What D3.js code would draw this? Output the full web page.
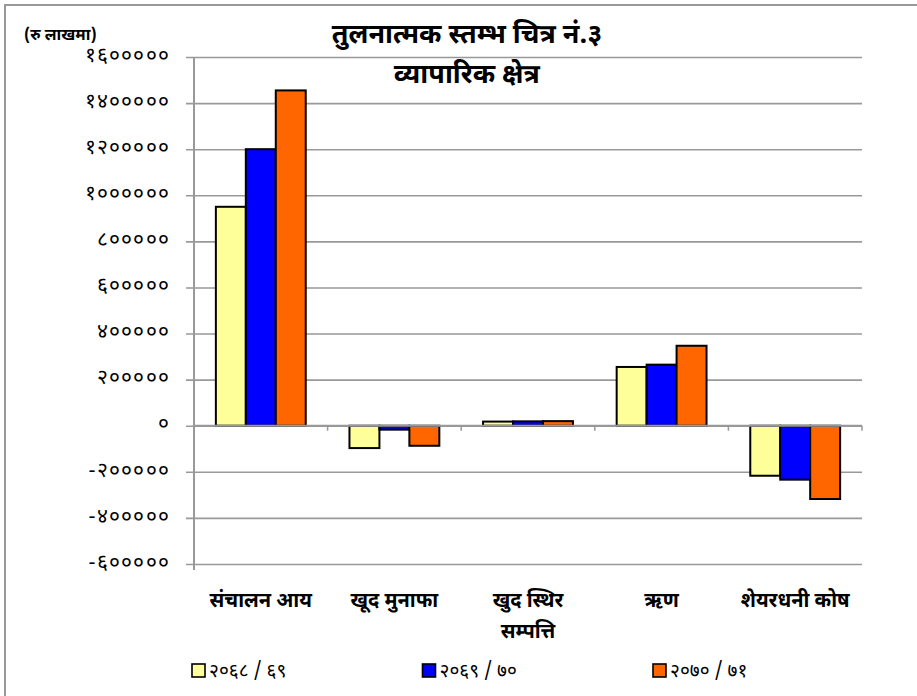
<!DOCTYPE html>
<html>
<head>
<meta charset="utf-8">
<script src="https://cdn.jsdelivr.net/npm/d3@7"></script>
<style>
  body { margin: 0; background: #fff; }
  svg { display: block; font-family: "Noto Sans Devanagari", "Noto Sans", "DejaVu Sans", sans-serif; }
</style>
</head>
<body>
<svg width="917" height="696"></svg>
<script>
// chart values (रु लाखमा)
const categories = ["संचालन आय", "खूद मुनाफा", "खुद स्थिर\nसम्पत्ति", "ऋण", "शेयरधनी कोष"];
const series = ["२०६८ / ६९", "२०६९ / ७०", "२०७० / ७१"];
const colors = ["#FFFF99", "#0000FF", "#FF6600"];
const v2068 = [950000, -97000, 18000, 255000, -217000];
const v2069 = [1200000, -17000, 19000, 265000, -234000];
const v2070 = [1455000, -87000, 20000, 347000, -318000];
const yTicks = [-600000, -400000, -200000, 0, 200000, 400000, 600000, 800000, 1000000, 1200000, 1400000, 1600000];

const seriesValues = [v2068, v2069, v2070];
const devDigits = "०१२३४५६७८९";
const toDev = (n) => String(n).replace(/[0-9]/g, (c) => devDigits[+c]);

let svg = d3.select("svg");

// frame
svg.append("rect")
    .attr("x", 5).attr("y", 5)
    .attr("width", 960).attr("height", 760)
    .attr("fill", "none")
    .attr("stroke", "#999").attr("stroke-width", 2);

const plot = {left: 194, right: 862, top: 57, bottom: 564};

const y = d3.scaleLinear()
    .domain([-600000, 1600000])
    .range([plot.bottom, plot.top]);

const x0 = d3.scaleBand()
    .domain(d3.range(categories.length))
    .range([plot.left, plot.right])
    .padding(0);

const x1 = d3.scaleBand()
    .domain(d3.range(series.length))
    .range([0, x0.bandwidth()])
    .paddingInner(0)
    .paddingOuter(0.73);

// gridlines + y ticks
const yAxis = d3.axisLeft(y)
    .tickValues(yTicks)
    .tickSize(-(plot.right - plot.left))
    .tickFormat((d) => toDev(d));

const gy = svg.append("g")
    .attr("transform", `translate(${plot.left},0)`)
    .call(yAxis);
gy.select(".domain").remove();
gy.selectAll(".tick line")
    .attr("x1", -8)
    .attr("stroke", "#999")
    .attr("stroke-width", 1.6);
gy.selectAll(".tick text")
    .attr("fill", "#000")
    .attr("font-size", 21)
    .attr("letter-spacing", 1.2)
    .attr("x", -24)
    .attr("dy", "0.2em");

// y axis line
svg.append("line")
    .attr("x1", plot.left).attr("x2", plot.left)
    .attr("y1", plot.top).attr("y2", plot.bottom + 6)
    .attr("stroke", "#999").attr("stroke-width", 2);

// bars
const groups = svg.append("g")
    .selectAll("g")
    .data(categories.map((c, i) => i))
    .enter()
    .append("g")
    .attr("transform", (i) => `translate(${x0(i)},0)`);

groups.selectAll("rect")
    .data((i) => seriesValues.map((vals, s) => ({s: s, v: vals[i]})))
    .enter()
    .append("rect")
    .attr("x", (d) => x1(d.s))
    .attr("width", x1.bandwidth())
    .attr("y", (d) => y(Math.max(0, d.v)))
    .attr("height", (d) => Math.abs(y(d.v) - y(0)))
    .attr("fill", (d) => colors[d.s])
    .attr("stroke", "#000")
    .attr("stroke-width", 2);

// zero line with category ticks
svg.append("line")
    .attr("x1", plot.left).attr("x2", plot.right)
    .attr("y1", y(0)).attr("y2", y(0))
    .attr("stroke", "#999").attr("stroke-width", 2);
svg.append("g")
    .selectAll("line")
    .data(d3.range(categories.length + 1))
    .enter()
    .append("line")
    .attr("x1", (i) => plot.left + i * x0.step())
    .attr("x2", (i) => plot.left + i * x0.step())
    .attr("y1", y(0)).attr("y2", y(0) + 5)
    .attr("stroke", "#999").attr("stroke-width", 1.5);

// category labels
const catLabels = svg.append("g")
    .selectAll("text")
    .data(categories)
    .enter()
    .append("text")
    .attr("x", (d, i) => x0(i) + x0.bandwidth() / 2)
    .attr("y", 607)
    .attr("text-anchor", "middle")
    .attr("font-size", 20)
    .attr("font-weight", "bold")
    .attr("fill", "#000");
catLabels.selectAll("tspan")
    .data((d) => d.split("\n"))
    .enter()
    .append("tspan")
    .attr("x", function () { return d3.select(this.parentNode).attr("x"); })
    .attr("dy", (d, i) => i === 0 ? 0 : 31)
    .text((d) => d);

// titles
svg.append("text")
    .attr("x", 467).attr("y", 43)
    .attr("text-anchor", "middle")
    .attr("font-size", 27)
    .attr("font-weight", "bold")
    .text("तुलनात्मक स्तम्भ चित्र नं.३");
svg.append("text")
    .attr("x", 467).attr("y", 83)
    .attr("text-anchor", "middle")
    .attr("font-size", 27)
    .attr("font-weight", "bold")
    .text("व्यापारिक क्षेत्र");
svg.append("text")
    .attr("x", 24).attr("y", 40)
    .attr("font-size", 16)
    .attr("font-weight", "bold")
    .text("(रु लाखमा)");

// legend
const legend = svg.append("g")
    .selectAll("g")
    .data(series)
    .enter()
    .append("g")
    .attr("transform", (d, i) => `translate(${192 + i * 230.5},664)`);
legend.append("rect")
    .attr("width", 13).attr("height", 13)
    .attr("fill", (d, i) => colors[i])
    .attr("stroke", "#000").attr("stroke-width", 1.6);
legend.append("text")
    .attr("x", 17).attr("y", 13)
    .attr("font-size", 19)
    .attr("fill", "#000")
    .text((d) => d);
</script>
</body>
</html>
